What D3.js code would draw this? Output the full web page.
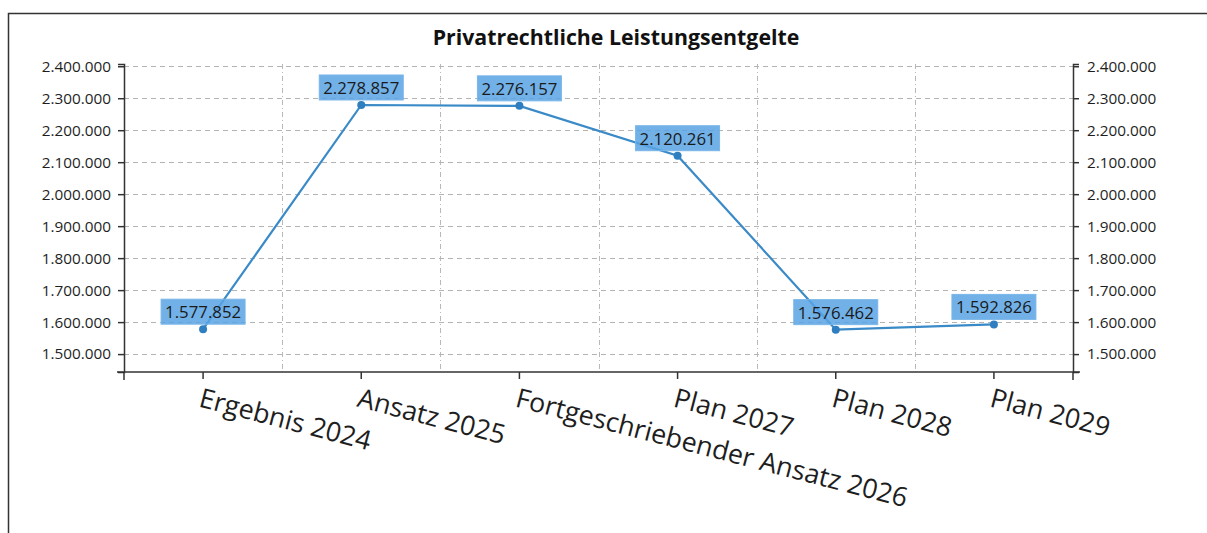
<!DOCTYPE html>
<html>
<head>
<meta charset="utf-8">
<script src="https://cdn.jsdelivr.net/npm/d3@7"></script>
<style>
  body { margin: 0; background: #fff; }
  svg { display: block; font-family: "Open Sans", sans-serif; }
</style>
</head>
<body>
<svg width="1207" height="533"></svg>
<script>
// Daten
var categories = ['Ergebnis 2024', 'Ansatz 2025', 'Fortgeschriebender Ansatz 2026', 'Plan 2027', 'Plan 2028', 'Plan 2029'];
var values = [1577852, 2278857, 2276157, 2120261, 1576462, 1592826];
var yTicks = [1500000, 1600000, 1700000, 1800000, 1900000, 2000000, 2100000, 2200000, 2300000, 2400000];
var yDomain = [1444000, 2407000];
var title = 'Privatrechtliche Leistungsentgelte';

var de = d3.formatLocale({decimal: ',', thousands: '.', grouping: [3], currency: ['', ' €']});
var fmt = de.format(',d');

var svg = d3.select('svg');
var plot = {left: 124, right: 1073, top: 64, bottom: 372};

// Rahmen
svg.append('path')
    .attr('d', 'M8.5,533 V13.5 H1207')
    .attr('fill', 'none')
    .attr('stroke', '#333')
    .attr('stroke-width', 1.5);

svg.append('text')
    .attr('x', 616)
    .attr('y', 45)
    .attr('text-anchor', 'middle')
    .attr('font-weight', 'bold')
    .attr('font-size', 21.3)
    .attr('fill', '#111')
    .text(title);

var x = d3.scaleBand().domain(categories).range([plot.left, plot.right]).padding(0);
var y = d3.scaleLinear().domain(yDomain).range([plot.bottom, plot.top]);
var cx = function (d) { return x(d) + x.bandwidth() / 2; };

// Gitter
var grid = svg.append('g');
grid.selectAll('.hg')
    .data(yTicks)
    .enter()
    .append('line')
    .attr('x1', plot.left).attr('x2', plot.right)
    .attr('y1', function (d) { return Math.round(y(d)) + 0.5; })
    .attr('y2', function (d) { return Math.round(y(d)) + 0.5; })
    .attr('stroke', '#b4b4b4')
    .attr('stroke-dasharray', '5,4');
grid.selectAll('.vg')
    .data(categories.slice(1))
    .enter()
    .append('line')
    .attr('x1', function (d) { return Math.round(x(d)) + 0.5; })
    .attr('x2', function (d) { return Math.round(x(d)) + 0.5; })
    .attr('y1', plot.top).attr('y2', plot.bottom)
    .attr('stroke', '#b8b8b8')
    .attr('stroke-dasharray', '5,3,1,3');

// Achsen
function styleAxis(g) {
    g.selectAll('path, line').attr('stroke', '#333').attr('stroke-width', 1.5);
    g.selectAll('text').attr('fill', '#1e1e1e').attr('font-family', '"Open Sans", sans-serif');
}

svg.append('g')
    .attr('transform', 'translate(' + plot.left + ',0)')
    .call(d3.axisLeft(y).tickValues(yTicks).tickFormat(fmt).tickSize(6).tickSizeOuter(6).tickPadding(7))
    .call(styleAxis)
    .selectAll('text').attr('font-size', 15.3);

svg.append('g')
    .attr('transform', 'translate(' + plot.right + ',0)')
    .call(d3.axisRight(y).tickValues(yTicks).tickFormat(fmt).tickSize(6).tickSizeOuter(6).tickPadding(8))
    .call(styleAxis)
    .selectAll('text').attr('font-size', 15.3);

// Achsenverlängerung nach unten
svg.append('g')
    .selectAll('line')
    .data([plot.left, plot.right])
    .enter()
    .append('line')
    .attr('x1', function (d) { return d; }).attr('x2', function (d) { return d; })
    .attr('y1', plot.bottom).attr('y2', plot.bottom + 8)
    .attr('stroke', '#333').attr('stroke-width', 1.5);

var xAxis = svg.append('g')
    .attr('transform', 'translate(0,' + plot.bottom + ')')
    .call(d3.axisBottom(x).tickSize(7).tickSizeOuter(0))
    .call(styleAxis);
xAxis.select('.domain').attr('d', 'M' + (plot.left - 7) + ',0H' + (plot.right + 7));
xAxis.selectAll('text')
    .attr('font-size', 26.8)
    .attr('text-anchor', 'start')
    .attr('x', 0).attr('y', 0).attr('dy', null)
    .attr('transform', 'translate(0,14) rotate(14.5) translate(0,21)');

// Linie
var line = d3.line()
    .x(function (d, i) { return cx(categories[i]); })
    .y(function (d) { return y(d); });

svg.append('path')
    .datum(values)
    .attr('d', line)
    .attr('fill', 'none')
    .attr('stroke', '#3a8ac8')
    .attr('stroke-width', 2.2);

svg.append('g')
    .selectAll('circle')
    .data(values)
    .enter()
    .append('circle')
    .attr('cx', function (d, i) { return cx(categories[i]); })
    .attr('cy', function (d) { return y(d); })
    .attr('r', 4)
    .attr('fill', '#2f7fc0');

// Beschriftungen
var lab = svg.append('g')
    .selectAll('g')
    .data(values)
    .enter()
    .append('g')
    .attr('transform', function (d, i) {
        return 'translate(' + cx(categories[i]) + ',' + (y(d) - 5) + ')';
    });
var labText = lab.append('text')
    .attr('text-anchor', 'middle')
    .attr('y', -6)
    .attr('font-size', 16.8)
    .attr('fill', '#1a1a1a')
    .text(function (d) { return fmt(d); });
labText.each(function () {
    var w = this.getComputedTextLength();
    d3.select(this.parentNode).insert('rect', 'text')
        .attr('x', -w / 2 - 4)
        .attr('y', -25)
        .attr('width', w + 8)
        .attr('height', 25)
        .attr('fill', 'rgba(88,163,228,0.85)')
        .attr('stroke', '#7ab6e8')
        .attr('stroke-width', 1);
});
</script>
</body>
</html>
